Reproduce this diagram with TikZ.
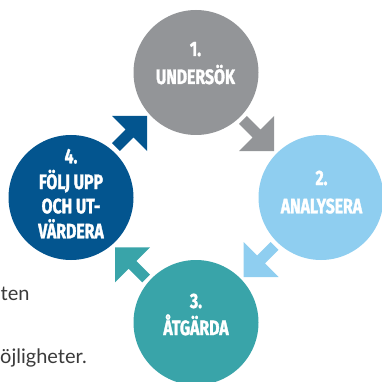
\documentclass[tikz,border=0pt]{standalone}
\usepackage{fontspec}
\setmainfont{Lato}
\newfontfamily\headfont[FakeStretch=0.76,FakeBold=1.5]{Fira Sans}
\definecolor{cgray}{HTML}{939598}
\definecolor{clight}{HTML}{8FCEF0}
\definecolor{cteal}{HTML}{39A4A9}
\definecolor{cdark}{HTML}{03558F}
\definecolor{textgray}{HTML}{3A3A3A}
\tikzset{
  stage/.style={circle, minimum size=125pt, inner sep=0pt, draw=none},
  steptext/.style={font=\headfont\bfseries\fontsize{20.8}{24}\selectfont, text=white, anchor=base, inner sep=0pt},
  bodytext/.style={font=\fontsize{20}{24}\selectfont, text=textgray, anchor=base west, inner sep=0pt},
}
\newcommand\blockarrow[1]{%
  \fill[#1] (0,0) -- (-24.75,24.75) -- (-24.75,5.5) -- (-44,5.5) -- (-44,-5.5)
    -- (-24.75,-5.5) -- (-24.75,-24.75) -- cycle;}
\begin{document}
\begin{tikzpicture}[x=1pt,y=-1pt]
\useasboundingbox (0,0) rectangle (381,382);
% circles
\node[stage, fill=cgray]  (c1) at (196,72.5) {};
\node[stage, fill=clight] (c2) at (321,197.5) {};
\node[stage, fill=cteal]  (c3) at (196,322.5) {};
\node[stage, fill=cdark]  (c4) at (71,197.5) {};
% texts
\node[steptext] (t1a) at (195.5,56) {1.};
\node[steptext] (t1b) at (195.5,84) {UNDERSÖK};
\node[steptext] (t2a) at (321.5,185) {2.};
\node[steptext] (t2b) at (321.5,213.3) {ANALYSERA};
\node[steptext] (t3a) at (196,308) {3.};
\node[steptext] (t3b) at (196,335) {ÅTGÄRDA};
\node[steptext] (t4a) at (71,163.3) {4.};
\node[steptext] (t4b) at (71,189) {FÖLJ UPP};
\node[steptext] (t4c) at (71,213.3) {OCH UT-};
\node[steptext] (t4d) at (71,238.3) {VÄRDERA};
% arrows
\begin{scope}[shift={(274,151)}, x={(0.7071pt,-0.7071pt)}, y={(0.7071pt,0.7071pt)}]
\blockarrow{cgray}
\end{scope}
\begin{scope}[shift={(243.5,277)}, x={(-0.7071pt,-0.7071pt)}, y={(0.7071pt,-0.7071pt)}]
\blockarrow{clight}
\end{scope}
\begin{scope}[shift={(115,247.3)}, x={(-0.7071pt,0.7071pt)}, y={(-0.7071pt,-0.7071pt)}]
\blockarrow{cteal}
\end{scope}
\begin{scope}[shift={(147,116)}, x={(0.7071pt,0.7071pt)}, y={(-0.7071pt,0.7071pt)}]
\blockarrow{cdark}
\end{scope}
% body text fragments
\node[bodytext] (p1) at (0.5,300.7) {ten};
\node[bodytext] (p2) at (0,363.3) {öjligheter.};
\end{tikzpicture}
\end{document}
